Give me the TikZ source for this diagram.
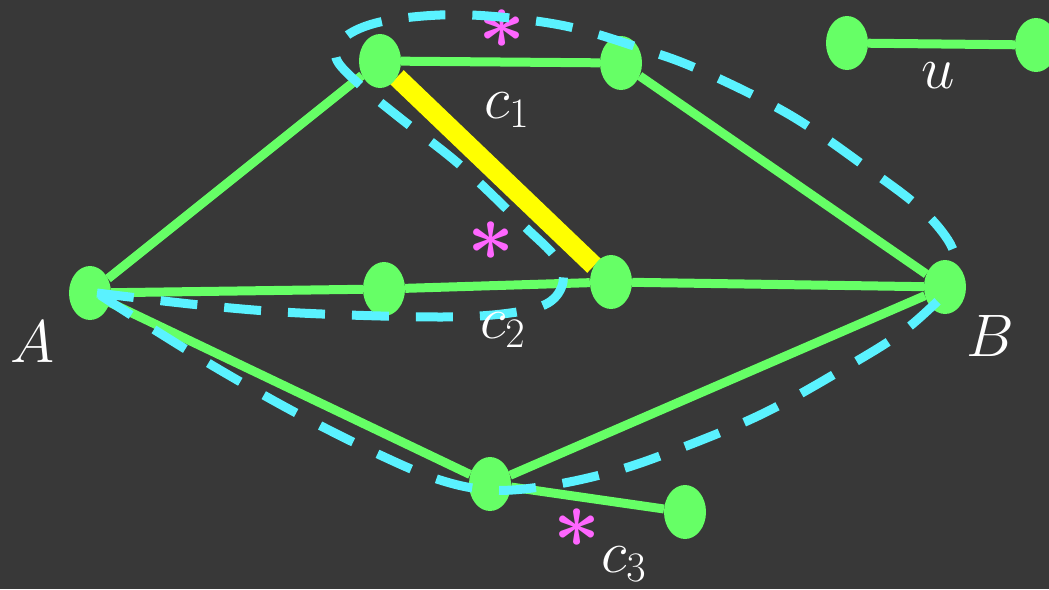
\RequirePackage{fix-cm}
\documentclass[tikz,border=0pt]{standalone}
\usepackage{bm}
\usetikzlibrary{shapes.geometric,backgrounds}
\definecolor{bg}{HTML}{383838}
\definecolor{gr}{HTML}{66FF66}
\definecolor{yl}{HTML}{FFFF00}
\definecolor{cy}{HTML}{5AF2FF}
\definecolor{mg}{HTML}{FF66FF}
\begin{document}
\begin{tikzpicture}[x=1pt,y=-1pt,
 vert/.style={ellipse,fill=gr,minimum width=42pt,minimum height=54pt,inner sep=0pt},
 edge/.style={gr,line width=9pt},
 hl/.style={yl,line width=19.5pt},
 loopline/.style={cy,line width=9pt,dash pattern=on 37pt off 27pt},
 lab/.style={white,font=\fontsize{60}{60}\selectfont,inner sep=0pt,anchor=base west},
 star/.style={mg,font=\fontsize{82}{82}\selectfont,inner sep=0pt,text height=30pt,text depth=0pt}]
\useasboundingbox (0,0) rectangle (1049,589);
% vertices
\node[vert] (A) at (90,293) {};
\node[vert] (P1) at (380,61) {};
\node[vert] (P2) at (621,63) {};
\node[vert] (M) at (384,289) {};
\node[vert] (Q) at (611,282) {};
\node[vert] (B) at (945,287) {};
\node[vert] (D) at (490,484) {};
\node[vert] (E) at (685,512) {};
\node[vert] (U1) at (847,43) {};
\node[vert] (U2) at (1036,45) {};
\begin{pgfonlayer}{background}
\fill[bg] (0,0) rectangle (1049,589);
\draw[edge] (A) -- (P1);
\draw[edge] (P1) -- (P2);
\draw[edge] (P2) -- (B);
\draw[edge] (A) -- (M);
\draw[edge] (M) -- (Q);
\draw[edge] (Q) -- (B);
\draw[edge] (A) -- (D);
\draw[edge] (D) -- (B);
\draw[edge] (D) -- (E);
\draw[edge] (U1) -- (U2);
\draw[hl] (P1) -- (Q);
\end{pgfonlayer}
% stars
\node[star,anchor=base] (s1) at (502,48) {$\bm{\ast}$};
\node[star,anchor=base] (s2) at (491,260) {$\bm{\ast}$};
\node[star,anchor=base] (s3) at (577,547) {$\bm{\ast}$};
% cycles
\draw[loopline] plot[smooth,tension=0.6] coordinates {(97,293) (200,305) (300,313) (440,317) (510,313) (548,303) (563,282) (556,258) (523,225) (460,165) (400,118) (360,85) (336,58) (345,37) (380,22) (440,15) (500,17) (570,27) (640,48) (700,70) (790,115) (870,170) (920,208) (948,240) (959,267)};
\draw[loopline] plot[smooth,tension=0.6] coordinates {(100,295) (150,327) (220,370) (300,415) (380,455) (440,480) (490,490) (540,487) (600,475) (660,456) (760,415) (850,365) (905,330) (947,292)};
% labels
\node[lab] (lc1) at (484,118) {$c_1$};
\node[lab] (lc2) at (480,338) {$c_2$};
\node[lab] (lc3) at (601,572) {$c_3$};
\node[lab] (lu) at (921,88) {$u$};
\node[lab] (lA) at (10,362) {$A$};
\node[lab] (lB) at (966,356) {$B$};
\end{tikzpicture}
\end{document}
